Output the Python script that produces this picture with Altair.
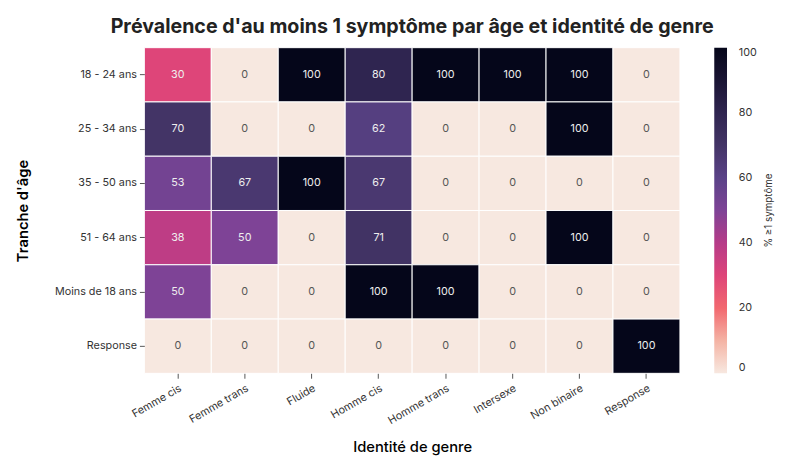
import altair as alt
import pandas as pd

ages = ["18 - 24 ans", "25 - 34 ans", "35 - 50 ans", "51 - 64 ans", "Moins de 18 ans", "Response"]
genres = ["Femme cis", "Femme trans", "Fluide", "Homme cis", "Homme trans", "Intersexe", "Non binaire", "Response"]
values = [
    [30, 0, 100, 80, 100, 100, 100, 0],
    [70, 0, 0, 62, 0, 0, 100, 0],
    [53, 67, 100, 67, 0, 0, 0, 0],
    [38, 50, 0, 71, 0, 0, 100, 0],
    [50, 0, 0, 100, 100, 0, 0, 0],
    [0, 0, 0, 0, 0, 0, 0, 100],
]
color_stops = [0, 10, 20, 30, 40, 50, 60, 70, 80, 90, 100]
color_range = ["#F7E8E0", "#F4B3A4", "#F2686F", "#DE4579", "#B63B88", "#7E4396",
               "#5A4287", "#433466", "#2F2550", "#1A1534", "#05061A"]
legend_title = "% ≥1 symptôme"

rows = []
for i, a in enumerate(ages):
    for j, g in enumerate(genres):
        rows.append({"age": a, "genre": g, "val": values[i][j]})
df = pd.DataFrame(rows)

FONT = "Inter"
W, H = 546, 332

base = alt.Chart(df).encode(
    x=alt.X("genre:N", sort=genres, title="Identité de genre",
            axis=alt.Axis(labelAngle=-30, labelAlign="right", labelBaseline="top",
                          labelFontSize=11, labelColor="#333", titleFontSize=15,
                          titleFontWeight=500, titlePadding=14, domain=False,
                          tickColor="#555", tickSize=5, labelPadding=4)),
    y=alt.Y("age:N", sort=ages, title="Tranche d'âge",
            axis=alt.Axis(labelFontSize=11, labelColor="#333", titleFontSize=15,
                          titleFontWeight=600, titlePadding=24, domain=False,
                          tickColor="#555", tickSize=5, labelPadding=3)),
)

rect = base.mark_rect(stroke="white", strokeWidth=1).encode(
    color=alt.Color("val:Q",
                    scale=alt.Scale(domain=color_stops, range=color_range, interpolate="rgb"),
                    legend=alt.Legend(title=None, orient="right", offset=35,
                                      gradientLength=H, gradientThickness=13,
                                      values=[0, 20, 40, 60, 80, 100],
                                      labelFontSize=11, labelColor="#333", labelOffset=12,
                                      gradientStrokeWidth=0))
)

text = base.mark_text(fontSize=11, font=FONT).encode(
    text=alt.Text("val:Q"),
    color=alt.condition(alt.datum.val > 0, alt.value("#EEEEEE"), alt.value("#555555")),
)

ltitle = alt.Chart(pd.DataFrame({"t": [legend_title]})).mark_text(
    angle=270, fontSize=10, font=FONT, color="#333", align="center", baseline="middle"
).encode(text="t:N", x=alt.value(W + 91), y=alt.value(H / 2))

chart = (rect + text + ltitle).properties(
    width=W, height=H,
    padding={"left": 8, "top": 5, "right": 5, "bottom": 5},
    title=alt.Title("Prévalence d'au moins 1 symptôme par âge et identité de genre",
                    fontSize=20, fontWeight="bold", font=FONT, color="#222", offset=10),
).configure(font=FONT).configure_view(stroke=None).configure_scale(bandPaddingInner=0, bandPaddingOuter=0)

chart.save("out.html", embed_options={"renderer": "svg", "actions": False})
